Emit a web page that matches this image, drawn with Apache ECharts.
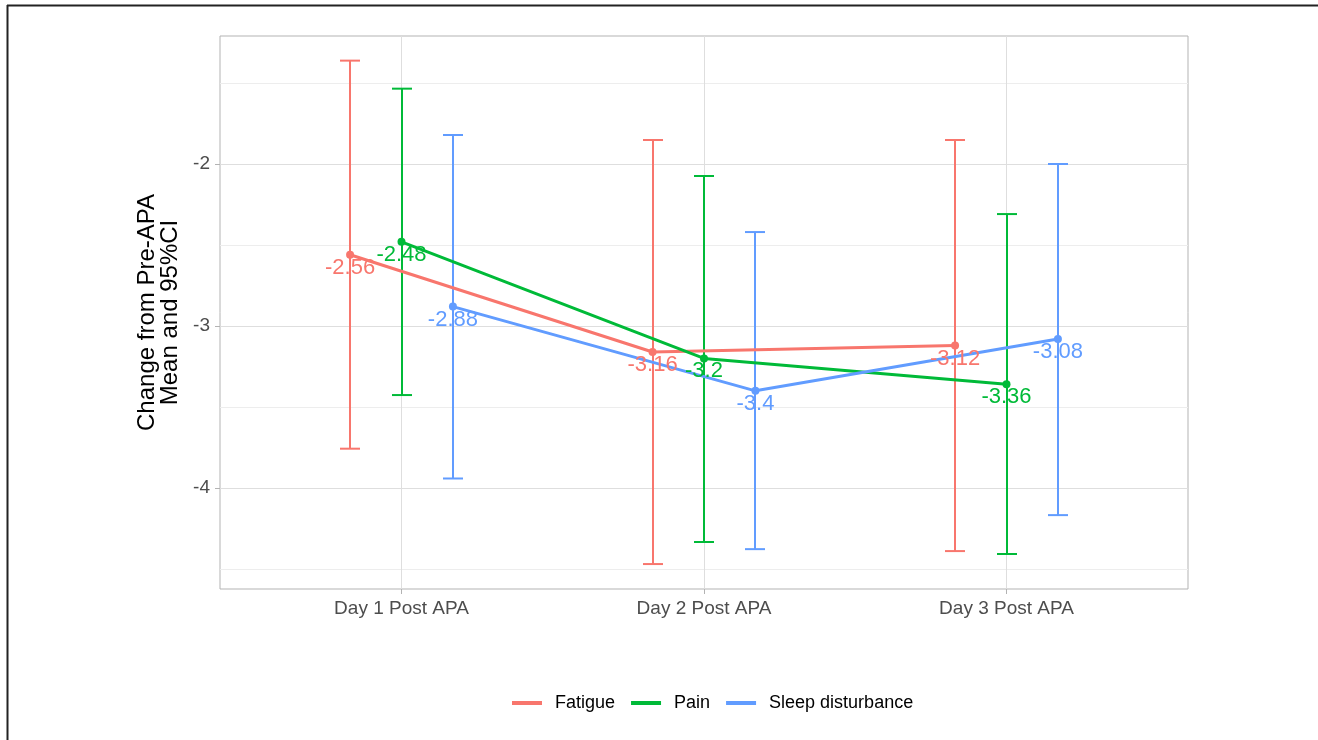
<!DOCTYPE html>
<html>
<head>
<meta charset="utf-8">
<script src="https://cdn.jsdelivr.net/npm/echarts@6/dist/echarts.min.js"></script>
<style>
html,body{margin:0;padding:0;background:#fff;}
#chart{width:1318px;height:740px;}
</style>
</head>
<body>
<div id="chart"></div>
<script>
// ---- data ----
const categories = ['Day 1 Post APA', 'Day 2 Post APA', 'Day 3 Post APA'];
const seriesNames = ['Fatigue', 'Pain', 'Sleep disturbance'];
const fatigueMean = [-2.56, -3.16, -3.12];
const fatigueLow  = [-3.757, -4.469, -4.389];
const fatigueHigh = [-1.362, -1.852, -1.852];
const painMean = [-2.48, -3.2, -3.36];
const painLow  = [-3.426, -4.333, -4.407];
const painHigh = [-1.535, -2.074, -2.309];
const sleepMean = [-2.88, -3.4, -3.08];
const sleepLow  = [-3.941, -4.377, -4.167];
const sleepHigh = [-1.821, -2.42, -2.0];
const yMajorTicks = [-4, -3, -2];
const yMinorTicks = [-4.5, -3.5, -2.5, -1.5];

// ---- styling ----
const colors = ['#F8766D', '#00BA38', '#619CFF'];
const dodge = [-0.17, 0, 0.17];
const FONT = 'Liberation Sans, Arial, sans-serif';

const groups = [
  {mean: fatigueMean, low: fatigueLow, high: fatigueHigh},
  {mean: painMean, low: painLow, high: painHigh},
  {mean: sleepMean, low: sleepLow, high: sleepHigh}
];
const catPos = categories.map((c, i) => i + 1);

const series = [];
// grid lines series
series.push({
  type: 'line', data: [], silent: true, z: 0, showSymbol: false,
  markLine: {
    silent: true, symbol: 'none', animation: false, label: {show: false}, z: 0,
    data: [
      ...yMinorTicks.map(v => ({yAxis: v, lineStyle: {color: '#ededed', width: 1, type: 'solid'}})),
      ...yMajorTicks.map(v => ({yAxis: v, lineStyle: {color: '#dedede', width: 1, type: 'solid'}})),
      ...catPos.map(v => ({xAxis: v, lineStyle: {color: '#dedede', width: 1, type: 'solid'}}))
    ]
  }
});

groups.forEach((g, si) => {
  // error bars
  series.push({
    type: 'custom',
    name: seriesNames[si],
    z: 3,
    silent: true,
    data: catPos.map((p, i) => [p + dodge[si], g.low[i], g.high[i]]),
    renderItem: function (params, api) {
      const x = api.value(0);
      const lo = api.coord([x, api.value(1)]);
      const hi = api.coord([x, api.value(2)]);
      const px = Math.round(lo[0]);
      const cap = 10;
      const style = {stroke: colors[si], lineWidth: 2};
      return {
        type: 'group',
        children: [
          {type: 'line', shape: {x1: px, y1: lo[1], x2: px, y2: hi[1]}, style: style},
          {type: 'line', shape: {x1: px - cap, y1: lo[1], x2: px + cap, y2: lo[1]}, style: style},
          {type: 'line', shape: {x1: px - cap, y1: hi[1], x2: px + cap, y2: hi[1]}, style: style}
        ]
      };
    },
    encode: {x: 0, y: [1, 2]}
  });
  // mean lines with points and labels
  series.push({
    type: 'line',
    name: seriesNames[si],
    z: 4,
    data: catPos.map((p, i) => [p + dodge[si], g.mean[i]]),
    symbol: 'circle',
    symbolSize: 8,
    lineStyle: {width: 3, color: colors[si]},
    itemStyle: {color: colors[si]},
    label: {
      show: true,
      position: 'bottom',
      distance: -2,
      fontSize: 22,
      fontFamily: FONT,
      color: colors[si],
      formatter: p => String(p.value[1])
    },
    labelLayout: {hideOverlap: false},
    animation: false
  });
});

const chart = echarts.init(document.getElementById('chart'), null, {renderer: 'canvas'});
chart.setOption({
  backgroundColor: '#ffffff',
  animation: false,
  color: colors,
  textStyle: {fontFamily: FONT},
  grid: {
    left: 220, top: 36, right: 130, bottom: 151,
    show: true, borderColor: '#b3b3b3', borderWidth: 1, backgroundColor: 'transparent'
  },
  xAxis: {
    type: 'value', min: 0.4, max: 3.6,
    axisLine: {show: false},
    splitLine: {show: false},
    axisTick: {show: true, customValues: catPos, length: 5, lineStyle: {color: '#b3b3b3'}},
    axisLabel: {
      customValues: catPos, margin: 10, fontSize: 19, color: '#4d4d4d', fontFamily: FONT,
      formatter: v => categories[Math.round(v) - 1] || ''
    }
  },
  yAxis: {
    type: 'value', min: -4.623, max: -1.21,
    axisLine: {show: false},
    splitLine: {show: false},
    axisTick: {show: true, customValues: yMajorTicks, length: 5, lineStyle: {color: '#b3b3b3'}},
    axisLabel: {
      customValues: yMajorTicks, margin: 10, fontSize: 19, color: '#4d4d4d', fontFamily: FONT,
      formatter: v => String(v)
    },
    name: 'Change from Pre-APA\nMean and 95%CI',
    nameLocation: 'middle',
    nameRotate: 90,
    nameGap: 36,
    nameTextStyle: {fontSize: 24, color: '#000', lineHeight: 23, fontFamily: FONT}
  },
  legend: {
    bottom: 23,
    left: 507,
    itemWidth: 30,
    itemHeight: 4,
    itemGap: 16,
    data: seriesNames.map((n, i) => ({name: n, icon: 'rect', itemStyle: {color: colors[i]}})),
    textStyle: {fontSize: 18, color: '#000', fontFamily: FONT, padding: [0, 0, 0, 8]}
  },
  graphic: [
    {type: 'line', shape: {x1: 7.5, y1: 5, x2: 7.5, y2: 740}, style: {stroke: '#222', lineWidth: 2}, silent: true},
    {type: 'line', shape: {x1: 7, y1: 5.5, x2: 1318, y2: 5.5}, style: {stroke: '#222', lineWidth: 2}, silent: true}
  ],
  series: series
});
</script>
</body>
</html>
